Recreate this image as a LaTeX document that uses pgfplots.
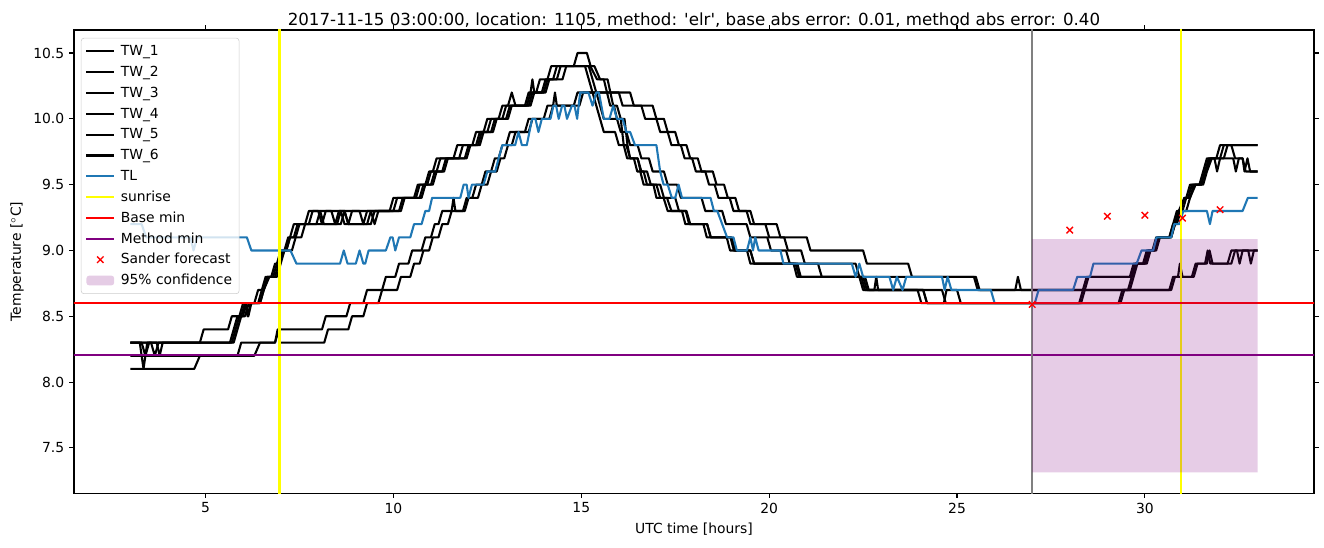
\documentclass[border=0pt]{standalone}
\usepackage{fontspec}
\setmainfont{DejaVu Sans}[Ligatures=TeXOff]
\usepackage{pgfplots}
\pgfplotsset{compat=1.18}
\definecolor{tlblue}{HTML}{1F77B4}
\definecolor{mplpurple}{HTML}{800080}
\definecolor{mplgray}{HTML}{808080}
\definecolor{mplyellow}{HTML}{FFFF00}
\definecolor{mplred}{HTML}{FF0000}
\definecolor{legedge}{HTML}{CCCCCC}
\begin{document}
\begin{tikzpicture}
\begin{axis}[
  scale only axis, width=892.8pt, height=333.4pt,
  xmin=1.5, xmax=34.5, ymin=7.157, ymax=10.675,
  xtick={5,10,15,20,25,30}, ytick={7.5,8,8.5,9,9.5,10,10.5},
  xticklabel={\pgfmathprintnumber[assume math mode=true]{\tick}},
  yticklabel={\pgfmathprintnumber[assume math mode=true,fixed,fixed zerofill,precision=1]{\tick}},
  tick align=outside, major tick length=3.5pt,
  every tick/.style={black, line width=0.8pt},
  axis line style={line width=0.8pt},
  tick label style={font=\fontsize{10}{12}\selectfont},
  label style={font=\fontsize{10}{12}\selectfont},
  xlabel={UTC time [hours]}, ylabel={Temperature [$^\circ$C]},
  every axis title/.style={at={(0.5,1)}, anchor=base, yshift=3pt, font=\fontsize{12}{14}\selectfont},
  title={2017-11-15 03:00:00, location: 1105, method: 'elr', base abs error: 0.01, method abs error: 0.40},
  legend cell align=left,
  legend style={at={(0.0056,0.983)}, anchor=north west, draw=legedge, rounded corners=2pt,
    fill=white, fill opacity=0.8, text opacity=1, font=\fontsize{10}{12}\selectfont,
    inner xsep=3pt, inner ysep=2pt, row sep=0pt, column sep=2pt,
    nodes={inner sep=2pt, text height=8.5pt, text depth=2.5pt}},
  legend image code/.code={\draw[line width=1.5pt,mark repeat=2,mark phase=2,#1] plot coordinates {(0pt,0pt)(10pt,0pt)(20pt,0pt)};},
  every axis plot/.append style={line width=1.5pt, line join=round},
]
% TW_1
\addplot[black] coordinates {(3.0,8.3)(3.25,8.3)(3.35,8.1)(3.45,8.3)(4.85,8.3)(4.95,8.4)(5.6,8.4)(5.7,8.5)(5.9,8.5)(6.0,8.6)(6.3,8.6)(6.4,8.7)(6.55,8.7)(6.65,8.8)(6.75,8.8)(6.85,8.9)(6.95,8.9)(7.05,9.0)(7.15,9.0)(7.25,9.1)(7.4,9.1)(7.5,9.2)(7.65,9.2)(7.75,9.3)(8.0,9.3)(8.1,9.2)(8.2,9.3)(8.7,9.3)(8.8,9.2)(8.9,9.3)(9.9,9.3)(10.0,9.4)(10.55,9.4)(10.65,9.5)(10.85,9.5)(10.95,9.6)(11.05,9.6)(11.15,9.7)(11.6,9.7)(11.7,9.8)(12.1,9.8)(12.2,9.9)(12.4,9.9)(12.5,10.0)(12.8,10.0)(12.9,10.1)(13.05,10.1)(13.15,10.2)(13.25,10.1)(13.5,10.1)(13.6,10.2)(13.8,10.2)(13.9,10.3)(14.1,10.3)(14.2,10.4)(14.8,10.4)(14.9,10.5)(15.15,10.5)(15.25,10.4)(15.35,10.4)(15.5,10.3)(15.7,10.3)(15.85,10.1)(15.95,10.1)(16.05,10.0)(16.15,10.0)(16.23,9.8)(16.3,9.7)(16.5,9.7)(16.58,9.6)(16.66,9.6)(16.75,9.5)(17.0,9.5)(17.1,9.4)(17.28,9.4)(17.4,9.3)(17.78,9.3)(17.87,9.2)(18.35,9.2)(18.44,9.1)(18.97,9.1)(19.06,9.0)(19.5,9.0)(19.6,8.9)(20.75,8.9)(20.84,8.8)(22.4,8.8)(22.5,8.7)(23.95,8.7)(24.05,8.6)(28.3,8.6)(28.4,8.7)(28.5,8.8)(29.6,8.8)(29.7,8.9)(29.95,8.9)(30.05,9.0)(30.2,9.0)(30.3,9.1)(30.65,9.1)(30.75,9.2)(30.85,9.3)(31.0,9.3)(31.1,9.4)(31.2,9.5)(31.5,9.5)(31.6,9.6)(31.75,9.7)(32.1,9.7)(32.2,9.8)(33.0,9.8)};
\addlegendentry{TW\_1}
% TW_2
\addplot[black] coordinates {(3.0,8.3)(3.55,8.3)(3.65,8.2)(3.75,8.3)(5.65,8.3)(5.75,8.4)(5.85,8.5)(6.0,8.5)(6.07,8.6)(6.14,8.5)(6.22,8.6)(6.4,8.6)(6.5,8.7)(6.6,8.8)(6.8,8.8)(6.9,8.9)(7.0,9.0)(7.15,9.0)(7.25,9.1)(7.35,9.2)(7.75,9.2)(7.85,9.3)(8.35,9.3)(8.45,9.2)(8.55,9.3)(9.1,9.3)(9.2,9.2)(9.3,9.3)(10.0,9.3)(10.1,9.4)(10.6,9.4)(10.7,9.5)(10.9,9.5)(11.0,9.6)(11.15,9.6)(11.25,9.7)(11.75,9.7)(11.85,9.8)(12.2,9.8)(12.3,9.9)(12.5,9.9)(12.6,10.0)(12.9,10.0)(13.0,10.1)(13.55,10.1)(13.65,10.2)(13.7,10.3)(13.75,10.2)(13.95,10.2)(14.05,10.3)(14.25,10.3)(14.35,10.4)(15.2,10.4)(15.3,10.3)(15.4,10.2)(15.5,10.1)(15.6,10.0)(15.95,10.0)(16.05,9.9)(16.2,9.9)(16.3,9.8)(16.5,9.8)(16.6,9.7)(16.8,9.7)(16.9,9.6)(17.2,9.6)(17.3,9.5)(17.55,9.5)(17.65,9.4)(18.2,9.4)(18.3,9.3)(18.75,9.3)(18.85,9.2)(19.4,9.2)(19.5,9.1)(19.95,9.1)(20.05,9.0)(20.45,9.0)(20.55,8.9)(21.3,8.9)(21.4,8.8)(22.45,8.8)(22.55,8.7)(22.8,8.7)(22.85,8.8)(22.9,8.7)(24.6,8.7)(24.7,8.6)(28.25,8.6)(28.35,8.7)(28.45,8.8)(29.65,8.8)(29.75,8.9)(30.0,8.9)(30.1,9.0)(30.25,9.0)(30.35,9.1)(30.7,9.1)(30.8,9.2)(30.9,9.3)(31.05,9.4)(31.2,9.4)(31.3,9.5)(31.55,9.5)(31.65,9.6)(31.78,9.7)(31.9,9.7)(32.0,9.8)(33.0,9.8)};
\addlegendentry{TW\_2}
% TW_3
\addplot[black] coordinates {(3.0,8.2)(5.85,8.2)(5.95,8.3)(6.85,8.3)(6.95,8.4)(8.1,8.4)(8.2,8.5)(8.75,8.5)(8.85,8.6)(9.2,8.6)(9.3,8.7)(9.7,8.7)(9.8,8.8)(10.05,8.8)(10.15,8.9)(10.4,8.9)(10.5,9.0)(10.75,9.0)(10.85,9.1)(11.0,9.1)(11.1,9.2)(11.2,9.2)(11.3,9.3)(11.55,9.3)(11.6,9.4)(11.65,9.3)(11.85,9.3)(11.95,9.4)(12.1,9.4)(12.2,9.5)(12.35,9.5)(12.45,9.6)(12.6,9.6)(12.7,9.7)(12.8,9.7)(12.9,9.8)(13.0,9.8)(13.1,9.9)(13.5,9.9)(13.6,10.0)(14.0,10.0)(14.1,10.1)(14.25,10.1)(14.3,10.2)(14.35,10.1)(14.8,10.1)(14.9,10.2)(16.3,10.2)(16.4,10.1)(16.9,10.1)(17.0,10.0)(17.2,10.0)(17.3,9.9)(17.5,9.9)(17.6,9.8)(17.8,9.8)(17.9,9.7)(18.1,9.7)(18.2,9.6)(18.5,9.6)(18.6,9.5)(18.8,9.5)(18.9,9.4)(19.1,9.4)(19.2,9.3)(19.5,9.3)(19.6,9.2)(20.2,9.2)(20.3,9.1)(21.0,9.1)(21.1,9.0)(22.5,9.0)(22.6,8.9)(23.7,8.9)(23.8,8.8)(25.5,8.8)(25.6,8.7)(26.55,8.7)(26.62,8.8)(26.7,8.7)(29.55,8.7)(29.65,8.8)(29.75,8.9)(30.0,8.9)(30.1,9.0)(30.25,9.0)(30.35,9.1)(30.65,9.1)(30.75,9.2)(30.85,9.2)(30.95,9.3)(31.05,9.4)(31.15,9.4)(31.25,9.5)(31.45,9.5)(31.55,9.6)(31.65,9.7)(31.85,9.7)(31.92,9.6)(32.0,9.7)(32.35,9.7)(32.42,9.6)(32.5,9.7)(32.6,9.7)(32.68,9.6)(33.0,9.6)};
\addlegendentry{TW\_3}
% TW_4
\addplot[black] coordinates {(3.0,8.3)(3.3,8.3)(3.4,8.2)(3.5,8.3)(5.7,8.3)(5.8,8.4)(5.9,8.5)(6.05,8.5)(6.15,8.6)(6.45,8.6)(6.55,8.7)(6.65,8.8)(6.85,8.8)(6.95,8.9)(7.1,9.0)(7.2,9.1)(7.35,9.1)(7.45,9.2)(8.5,9.2)(8.6,9.3)(8.7,9.2)(9.3,9.2)(9.4,9.3)(9.5,9.2)(9.6,9.3)(10.15,9.3)(10.25,9.4)(10.7,9.4)(10.8,9.5)(11.0,9.5)(11.1,9.6)(11.3,9.6)(11.4,9.7)(11.9,9.7)(12.0,9.8)(12.25,9.8)(12.35,9.9)(12.6,9.9)(12.7,10.0)(13.0,10.0)(13.1,10.1)(13.6,10.1)(13.7,10.2)(14.0,10.2)(14.1,10.3)(14.35,10.3)(14.45,10.4)(15.1,10.4)(15.2,10.3)(15.3,10.2)(15.4,10.1)(15.5,10.0)(15.6,9.9)(15.9,9.9)(16.0,9.8)(16.2,9.8)(16.3,9.7)(16.5,9.7)(16.6,9.6)(16.75,9.6)(16.85,9.5)(17.1,9.5)(17.2,9.4)(17.5,9.4)(17.6,9.3)(17.8,9.3)(17.9,9.2)(18.35,9.2)(18.45,9.1)(19.0,9.1)(19.1,9.0)(19.5,9.0)(19.6,8.9)(20.7,8.9)(20.8,8.8)(22.55,8.8)(22.65,8.7)(24.1,8.7)(24.2,8.6)(24.65,8.6)(24.72,8.7)(25.0,8.7)(25.1,8.6)(29.3,8.6)(29.4,8.7)(30.7,8.7)(30.8,8.8)(31.3,8.8)(31.4,8.9)(31.65,8.9)(31.72,9.0)(31.8,8.9)(32.3,8.9)(32.4,9.0)(33.0,9.0)};
\addlegendentry{TW\_4}
% TW_5
\addplot[black] coordinates {(3.0,8.3)(3.7,8.3)(3.78,8.2)(3.86,8.3)(5.75,8.3)(5.85,8.4)(5.95,8.5)(6.05,8.6)(6.12,8.5)(6.2,8.6)(6.45,8.6)(6.55,8.7)(6.7,8.8)(6.9,8.8)(7.0,8.9)(7.1,9.0)(7.3,9.0)(7.4,9.1)(7.55,9.1)(7.65,9.2)(7.95,9.2)(8.05,9.3)(8.15,9.2)(8.6,9.2)(8.7,9.3)(8.8,9.2)(9.4,9.2)(9.5,9.3)(10.2,9.3)(10.3,9.4)(10.75,9.4)(10.85,9.5)(11.05,9.5)(11.15,9.6)(11.35,9.6)(11.45,9.7)(11.95,9.7)(12.05,9.8)(12.3,9.8)(12.4,9.9)(12.65,9.9)(12.75,10.0)(13.05,10.0)(13.15,10.1)(13.65,10.1)(13.75,10.2)(14.05,10.2)(14.15,10.3)(14.5,10.3)(14.6,10.4)(15.24,10.4)(15.42,10.3)(15.6,10.3)(15.77,10.1)(15.87,10.1)(15.95,10.0)(16.05,10.0)(16.13,9.8)(16.22,9.7)(16.4,9.7)(16.49,9.6)(16.57,9.6)(16.66,9.5)(16.92,9.5)(17.0,9.4)(17.19,9.4)(17.3,9.3)(17.68,9.3)(17.77,9.2)(18.25,9.2)(18.34,9.1)(18.87,9.1)(18.96,9.0)(19.41,9.0)(19.5,8.9)(20.65,8.9)(20.74,8.8)(22.5,8.8)(22.6,8.7)(24.1,8.7)(24.2,8.6)(29.35,8.6)(29.45,8.7)(30.65,8.7)(30.75,8.8)(30.88,8.8)(30.93,8.9)(31.0,8.8)(31.25,8.8)(31.35,8.9)(31.6,8.9)(31.67,9.0)(31.74,8.9)(32.2,8.9)(32.3,9.0)(32.45,9.0)(32.52,8.9)(32.6,9.0)(32.75,9.0)(32.82,8.9)(32.9,9.0)(33.0,9.0)};
\addlegendentry{TW\_5}
% TW_6
\addplot[black] coordinates {(3.0,8.1)(4.7,8.1)(4.85,8.2)(6.3,8.2)(6.45,8.3)(6.85,8.3)(6.92,8.4)(6.98,8.3)(8.16,8.3)(8.26,8.4)(8.8,8.4)(8.9,8.5)(9.2,8.5)(9.3,8.6)(9.6,8.6)(9.7,8.7)(10.1,8.7)(10.2,8.8)(10.45,8.8)(10.55,8.9)(10.7,8.9)(10.8,9.0)(10.95,9.0)(11.05,9.1)(11.2,9.1)(11.3,9.2)(11.45,9.2)(11.55,9.3)(11.9,9.3)(12.0,9.4)(12.25,9.4)(12.35,9.5)(12.5,9.5)(12.6,9.6)(12.75,9.6)(12.85,9.7)(12.95,9.7)(13.05,9.8)(13.15,9.8)(13.25,9.9)(13.6,9.9)(13.7,10.0)(14.15,10.0)(14.25,10.1)(14.95,10.1)(15.05,10.2)(16.0,10.2)(16.1,10.1)(16.6,10.1)(16.7,10.0)(17.0,10.0)(17.1,9.9)(17.3,9.9)(17.4,9.8)(17.65,9.8)(17.75,9.7)(17.95,9.7)(18.05,9.6)(18.3,9.6)(18.4,9.5)(18.55,9.5)(18.65,9.4)(18.95,9.4)(19.05,9.3)(19.4,9.3)(19.5,9.2)(19.9,9.2)(20.0,9.1)(20.4,9.1)(20.5,9.0)(20.85,9.0)(20.95,8.9)(22.3,8.9)(22.4,8.8)(25.45,8.8)(25.55,8.7)(29.6,8.7)(29.7,8.8)(29.8,8.9)(30.05,8.9)(30.15,9.0)(30.3,9.0)(30.4,9.1)(30.7,9.1)(30.8,9.2)(30.9,9.3)(31.1,9.3)(31.2,9.4)(31.35,9.5)(31.5,9.5)(31.6,9.6)(31.7,9.7)(32.0,9.7)(32.1,9.8)(32.3,9.8)(32.4,9.7)(32.6,9.7)(32.65,9.6)(32.73,9.7)(32.8,9.6)(33.0,9.6)};
\addlegendentry{TW\_6}
% TL
\addplot[tlblue] coordinates {(3.0,9.2)(3.3,9.2)(3.42,9.1)(4.6,9.1)(4.68,9.0)(4.78,9.1)(6.1,9.1)(6.22,9.0)(7.26,9.0)(7.42,8.9)(8.58,8.9)(8.68,9.0)(8.78,8.9)(9.0,8.9)(9.1,9.0)(9.2,8.9)(9.25,8.9)(9.34,9.0)(9.8,9.0)(9.92,9.1)(9.98,9.1)(10.05,9.0)(10.15,9.1)(10.45,9.1)(10.55,9.2)(10.75,9.2)(10.85,9.3)(10.95,9.3)(11.03,9.4)(11.78,9.4)(11.87,9.5)(11.95,9.5)(12.0,9.4)(12.09,9.5)(12.4,9.5)(12.5,9.6)(12.71,9.6)(12.8,9.7)(12.9,9.8)(13.24,9.8)(13.33,9.9)(13.42,9.8)(13.55,9.8)(13.62,9.9)(13.69,10.0)(13.78,10.0)(13.86,9.9)(13.95,10.0)(14.18,10.0)(14.26,10.1)(14.33,10.1)(14.4,10.0)(14.49,10.1)(14.55,10.1)(14.62,10.0)(14.75,10.1)(14.82,10.1)(14.89,10.0)(14.97,10.2)(15.19,10.2)(15.3,10.1)(15.4,10.2)(15.47,10.2)(15.6,10.0)(15.75,10.0)(15.85,10.1)(15.95,10.0)(16.1,10.0)(16.2,9.9)(16.3,9.9)(16.43,9.8)(17.0,9.8)(17.1,9.6)(17.19,9.5)(17.3,9.5)(17.41,9.4)(17.5,9.4)(17.59,9.5)(17.68,9.4)(18.44,9.4)(18.53,9.3)(18.62,9.3)(18.75,9.2)(18.88,9.1)(19.05,9.1)(19.14,9.0)(19.41,9.0)(19.5,9.1)(19.57,9.0)(19.63,9.1)(19.72,9.0)(20.3,9.0)(20.38,8.9)(22.2,8.9)(22.3,8.8)(22.4,8.9)(22.5,8.8)(23.2,8.8)(23.3,8.7)(23.4,8.8)(23.55,8.7)(23.65,8.8)(24.6,8.8)(24.67,8.7)(24.75,8.8)(24.85,8.7)(25.9,8.7)(26.0,8.6)(27.07,8.6)(27.17,8.7)(28.09,8.7)(28.2,8.8)(28.54,8.8)(28.63,8.9)(29.78,8.9)(29.91,9.0)(30.22,9.0)(30.31,9.1)(30.7,9.1)(30.78,9.2)(30.92,9.2)(31.02,9.3)(31.65,9.3)(31.73,9.2)(31.8,9.3)(32.6,9.3)(32.74,9.4)(33.0,9.4)};
\addlegendentry{TL}
% sunrise
\addplot[mplyellow] coordinates {(6.97,6.5)(6.97,11.5)};
\addlegendentry{sunrise}
\addplot[mplyellow, forget plot] coordinates {(30.96,6.5)(30.96,11.5)};
% base min
\addplot[mplred] coordinates {(0,8.599)(36,8.599)};
\addlegendentry{Base min}
% method min
\addplot[mplpurple] coordinates {(0,8.205)(36,8.205)};
\addlegendentry{Method min}
% forecast time
\addplot[mplgray, forget plot] coordinates {(27,6.5)(27,11.5)};
% Sander forecast
\addplot[mplred, only marks, mark=x, mark size=3.3pt, mark options={line width=1pt}] coordinates {(27,8.59)(28,9.154)(29,9.26)(30,9.268)(31,9.245)(32,9.31)};
\addlegendentry{Sander forecast}
% 95% confidence
\addplot[draw=none, fill=mplpurple, fill opacity=0.2,
  legend image code/.code={\fill[mplpurple, fill opacity=0.2] (0pt,-3.5pt) rectangle (20pt,3.5pt);}]
  coordinates {(27,7.315)(33,7.315)(33,9.086)(27,9.086)(27,7.315)};
\addlegendentry{95\% confidence}
\coordinate (ll) at (rel axis cs:0,0);
\coordinate (ur) at (rel axis cs:1,1);
\end{axis}
\pgfresetboundingbox
\useasboundingbox ([shift={(-53.28pt,-38.88pt)}]ll) rectangle ([shift={(7.2pt,21.6pt)}]ur);
\end{tikzpicture}
\end{document}
